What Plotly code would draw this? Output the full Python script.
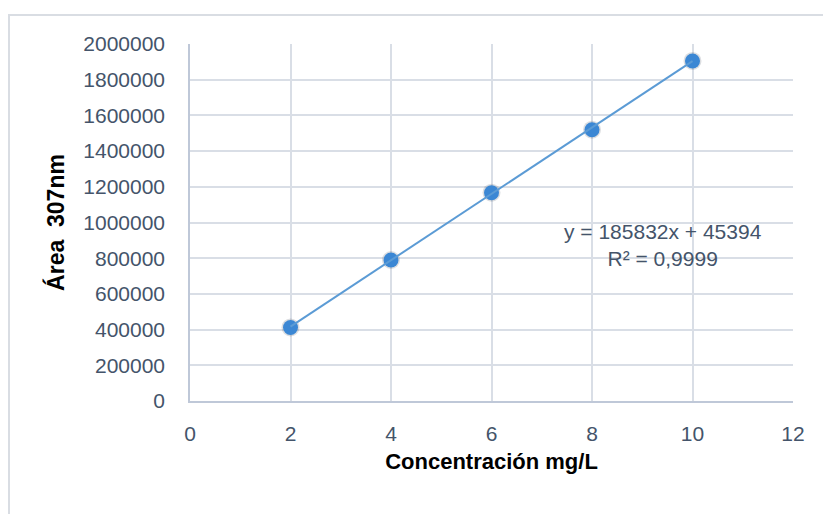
import plotly.graph_objects as go

# Calibration data: concentration (mg/L) vs peak area at 307 nm
conc = [2, 4, 6, 8, 10]
area = [412000, 790000, 1167000, 1520000, 1905000]

# Linear trendline coefficients and fit quality
slope = 185832
intercept = 45394
r2_text = "0,9999"

x_ticks = [0, 2, 4, 6, 8, 10, 12]
y_ticks = [0, 200000, 400000, 600000, 800000, 1000000, 1200000, 1400000,
           1600000, 1800000, 2000000]

W, H = 823, 514
ML, MR, MT, MB = 190, 30, 44, 113
pw, ph = W - ML - MR, H - MT - MB

FAMILY = "Liberation Sans, Arial, sans-serif"
tick_font = dict(family=FAMILY, size=21, color="#44546A")
xtitle_font = dict(family=FAMILY, size=22, color="#000000")
ytitle_font = dict(family=FAMILY, size=23, color="#000000")

trend_x = [conc[0], conc[-1]]
trend_y = [slope * v + intercept for v in trend_x]

fig = go.Figure()

# soft halo under the markers
fig.add_trace(go.Scatter(
    x=conc, y=area, mode="markers",
    marker=dict(size=18, color="rgba(60,70,90,0.18)", line=dict(width=0)),
    hoverinfo="skip", showlegend=False,
))
fig.add_trace(go.Scatter(
    x=conc, y=area, mode="markers",
    marker=dict(size=15, color="#3B87D4", line=dict(width=0)),
    showlegend=False, name="Área",
))
fig.add_trace(go.Scatter(
    x=trend_x, y=trend_y, mode="lines",
    line=dict(color="#5B9BD5", width=2),
    showlegend=False, name="Lineal",
))

# trendline equation, positioned in plot-area pixels
fig.add_annotation(
    x=(663 - ML) / pw, y=(H - MB - 245) / ph,
    xref="x domain", yref="y domain", xanchor="center", yanchor="middle",
    text=f"y = {slope}x + {intercept}<br>R² = {r2_text}",
    showarrow=False, font=tick_font, align="center",
)

fig.update_layout(
    width=W, height=H,
    margin=dict(l=ML, r=MR, t=MT, b=MB),
    paper_bgcolor="white", plot_bgcolor="white",
    showlegend=False,
)

fig.update_xaxes(
    range=[0, 12], tickvals=x_ticks, ticktext=[str(v) for v in x_ticks],
    showgrid=True, gridcolor="#D9DEE6", gridwidth=1.5,
    showline=True, linecolor="#BFC8D8", linewidth=1.5,
    zeroline=False, ticks="outside", ticklen=13, tickcolor="rgba(0,0,0,0)",
    tickfont=tick_font,
    title=dict(text="<b>Concentración mg/L</b>", font=xtitle_font, standoff=10),
)
fig.update_yaxes(
    range=[0, 2000000], tickvals=y_ticks, ticktext=[str(v) for v in y_ticks],
    showgrid=True, gridcolor="#D9DEE6", gridwidth=1.5,
    showline=True, linecolor="#BFC8D8", linewidth=1.5,
    zeroline=False, ticks="outside", ticklen=19, tickcolor="rgba(0,0,0,0)",
    tickfont=tick_font,
    title=dict(text="<b>Área  307nm</b>", font=ytitle_font, standoff=12),
)

# outer chart frame
fig.add_shape(
    type="rect", xref="paper", yref="paper",
    x0=(9 - ML) / pw, x1=(W + 10 - ML) / pw,
    y0=(H - MB - (H + 10)) / ph, y1=(H - MB - 15) / ph,
    line=dict(color="#D9DDE3", width=2), fillcolor="rgba(0,0,0,0)",
    layer="below",
)

fig.write_html("out.html")
